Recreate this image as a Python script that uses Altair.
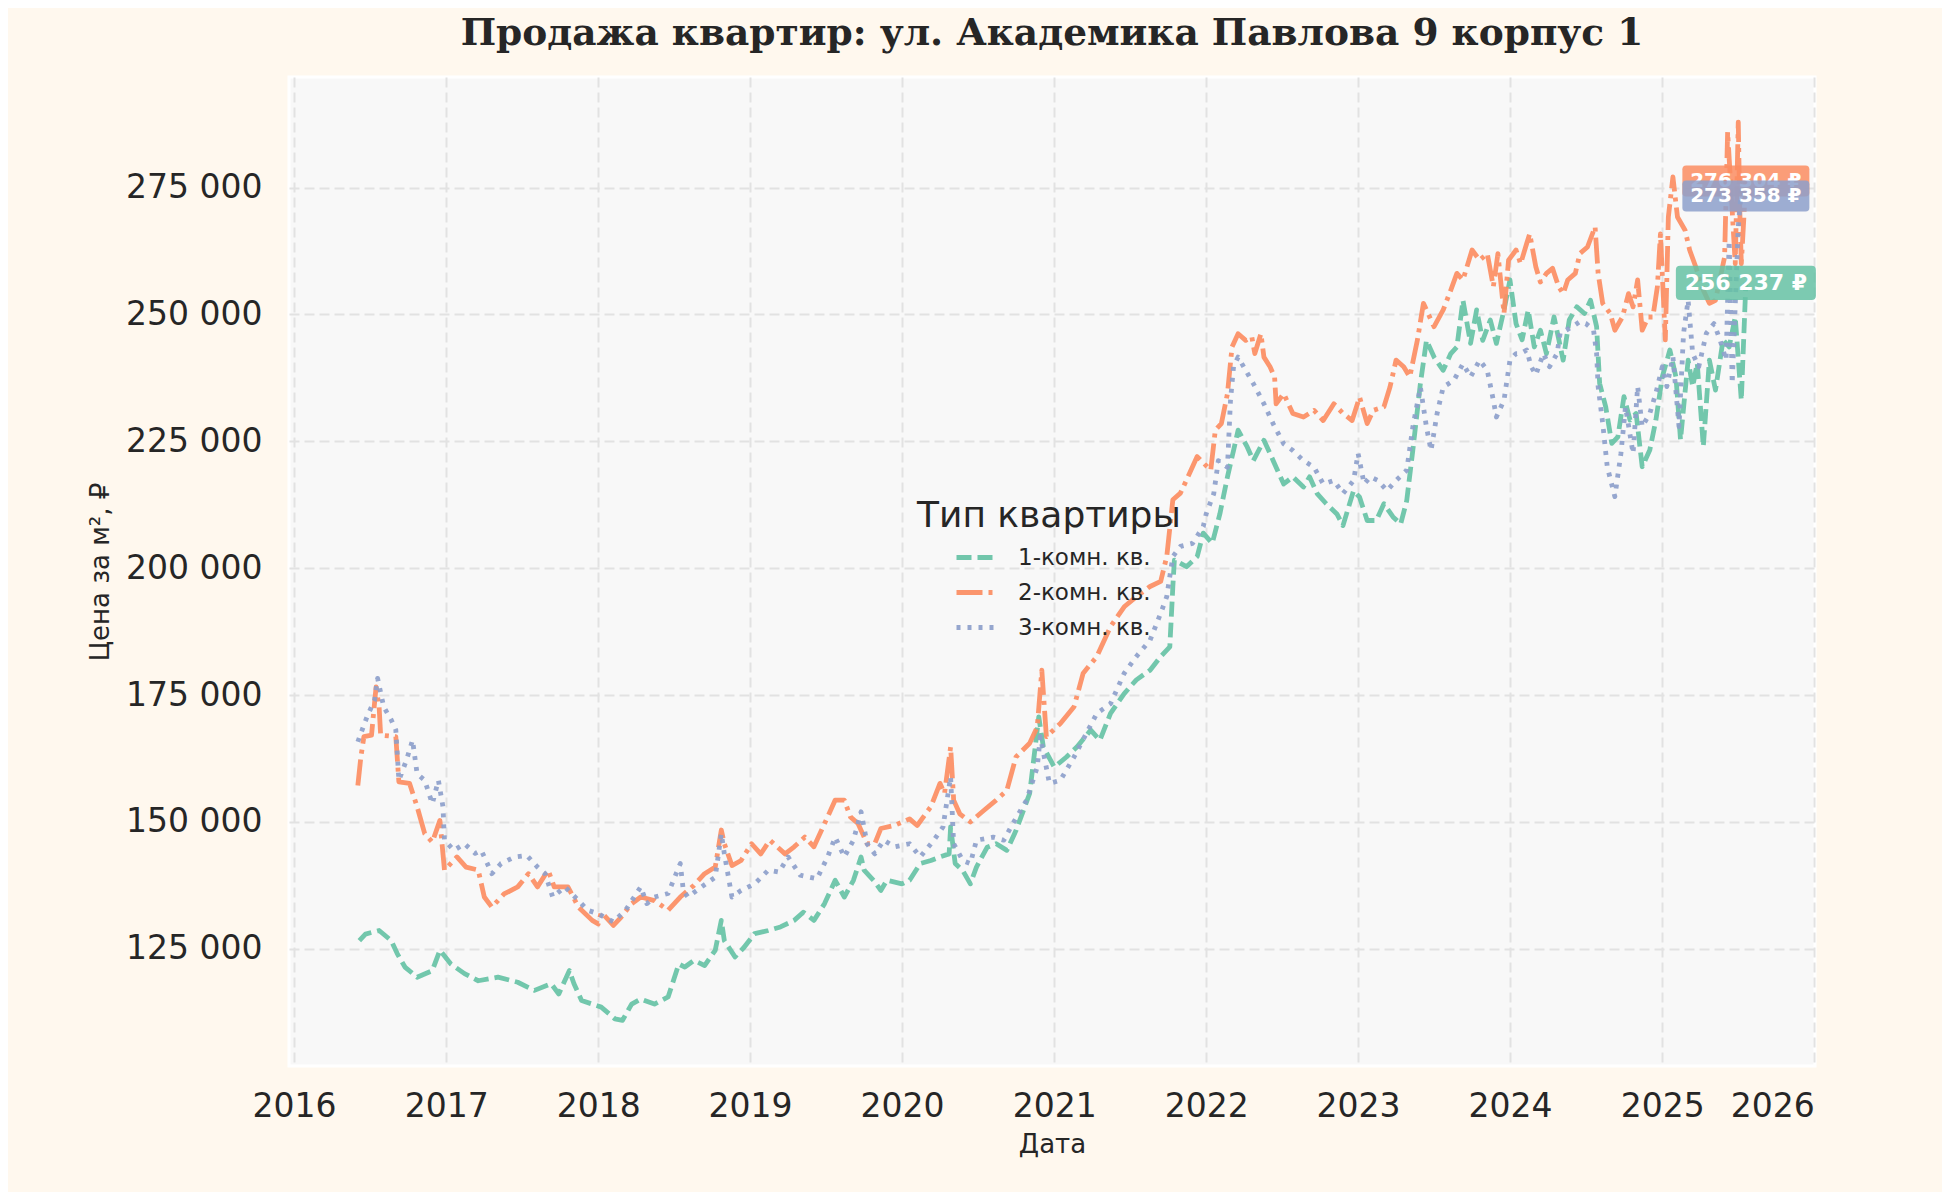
import altair as alt
import pandas as pd

# ---------------- data (decimal years, prices in thousand ₽) ----------------
series_names = ["1-комн. кв.", "2-комн. кв.", "3-комн. кв."]
series_colors = ["#66c2a5", "#fc8d62", "#8da0cb"]
last_values = [256237, 276304, 273358]

t1 = [2016.43, 2016.47, 2016.56, 2016.64, 2016.68, 2016.73, 2016.81, 2016.91, 2016.96, 2017.03,
      2017.12, 2017.21, 2017.34, 2017.47, 2017.58, 2017.69, 2017.74, 2017.81, 2017.84, 2017.89,
      2017.96, 2018.02, 2018.11, 2018.16, 2018.22, 2018.28, 2018.37, 2018.46, 2018.53, 2018.57,
      2018.63, 2018.70, 2018.77, 2018.81, 2018.83, 2018.90, 2018.96, 2019.03, 2019.12, 2019.20,
      2019.29, 2019.35, 2019.42, 2019.49, 2019.56, 2019.62, 2019.68, 2019.73, 2019.75, 2019.82,
      2019.86, 2019.90, 2020.00, 2020.05, 2020.12, 2020.19, 2020.25, 2020.31, 2020.32, 2020.35,
      2020.40, 2020.45, 2020.49, 2020.56, 2020.62, 2020.69, 2020.75, 2020.84, 2020.90, 2020.93,
      2021.00, 2021.08, 2021.15, 2021.24, 2021.30, 2021.37, 2021.46, 2021.54, 2021.63, 2021.70,
      2021.76, 2021.78, 2021.79, 2021.87, 2021.94, 2021.98, 2022.04, 2022.09, 2022.14, 2022.18,
      2022.21, 2022.27, 2022.31, 2022.38, 2022.42, 2022.46, 2022.51, 2022.57, 2022.64, 2022.68,
      2022.73, 2022.79, 2022.86, 2022.90, 2022.97, 2023.01, 2023.06, 2023.12, 2023.17, 2023.23,
      2023.28, 2023.32, 2023.36, 2023.41, 2023.45, 2023.50, 2023.56, 2023.61, 2023.65, 2023.69,
      2023.74, 2023.78, 2023.82, 2023.87, 2023.91, 2023.96, 2024.00, 2024.04, 2024.08, 2024.12,
      2024.16, 2024.20, 2024.24, 2024.29, 2024.35, 2024.39, 2024.44, 2024.49, 2024.53, 2024.57,
      2024.59, 2024.63, 2024.67, 2024.71, 2024.75, 2024.79, 2024.83, 2024.87, 2024.92, 2024.96,
      2025.00, 2025.05, 2025.09, 2025.12, 2025.17, 2025.20, 2025.23, 2025.27, 2025.31, 2025.35,
      2025.40, 2025.44, 2025.48, 2025.52, 2025.55]
v1 = [126.6, 127.9, 128.6, 126.6, 124.0, 121.4, 119.4, 120.7, 124.7, 122.0,
      120.1, 118.7, 119.4, 118.4, 116.8, 118.1, 116.1, 120.7, 118.1, 114.8,
      114.1, 113.5, 111.2, 110.9, 114.1, 115.1, 114.1, 115.5, 122.0, 121.4,
      122.7, 121.7, 124.7, 130.6, 126.6, 123.4, 125.3, 128.0, 128.6, 129.3,
      130.6, 132.2, 130.6, 133.9, 138.5, 135.2, 138.5, 143.1, 140.5, 138.2,
      136.5, 138.5, 137.8, 138.5, 141.8, 142.4, 143.1, 143.7, 149.0, 141.8,
      140.4, 137.8, 141.1, 145.0, 145.7, 144.4, 148.3, 155.6, 170.7, 164.8,
      160.8, 162.8, 164.8, 168.1, 166.1, 171.4, 175.3, 178.0, 179.9, 182.6,
      184.5, 196.4, 201.6, 200.3, 202.3, 206.9, 204.9, 210.7, 218.0, 223.2,
      227.2, 223.9, 221.2, 225.2, 222.6, 219.9, 216.6, 218.0, 216.0, 218.0,
      214.7, 212.7, 210.7, 208.4, 215.3, 214.0, 209.4, 209.4, 212.7, 210.1,
      208.7, 213.3, 223.2, 236.4, 244.9, 241.6, 239.0, 242.3, 243.6, 252.8,
      244.3, 250.9, 244.9, 248.9, 244.3, 250.9, 256.8, 248.2, 245.0, 250.9,
      243.6, 246.9, 242.3, 249.5, 241.0, 248.9, 251.5, 250.2, 252.8, 247.6,
      236.4, 231.8, 224.6, 225.9, 233.8, 229.2, 230.5, 220.0, 223.3, 229.2,
      237.7, 243.0, 237.7, 225.3, 241.0, 235.8, 240.4, 224.0, 241.0, 235.1,
      245.0, 243.6, 249.5, 233.1, 256.237]

t2 = [2016.42, 2016.44, 2016.46, 2016.51, 2016.54, 2016.56, 2016.57, 2016.67, 2016.69, 2016.76,
      2016.81, 2016.86, 2016.91, 2016.96, 2016.99, 2017.07, 2017.13, 2017.21, 2017.25, 2017.30,
      2017.38, 2017.47, 2017.54, 2017.60, 2017.67, 2017.71, 2017.80, 2017.87, 2017.96, 2018.00,
      2018.02, 2018.10, 2018.15, 2018.22, 2018.28, 2018.37, 2018.46, 2018.54, 2018.63, 2018.70,
      2018.77, 2018.81, 2018.83, 2018.88, 2018.94, 2019.01, 2019.07, 2019.13, 2019.23, 2019.29,
      2019.36, 2019.42, 2019.51, 2019.56, 2019.62, 2019.66, 2019.71, 2019.77, 2019.82, 2019.86,
      2019.95, 2020.05, 2020.10, 2020.19, 2020.25, 2020.28, 2020.32, 2020.34, 2020.38, 2020.45,
      2020.54, 2020.62, 2020.69, 2020.75, 2020.84, 2020.89, 2020.92, 2020.95, 2021.04, 2021.13,
      2021.19, 2021.28, 2021.37, 2021.46, 2021.54, 2021.63, 2021.70, 2021.74, 2021.78, 2021.83,
      2021.89, 2021.94, 2022.03, 2022.06, 2022.10, 2022.14, 2022.17, 2022.21, 2022.26, 2022.30,
      2022.32, 2022.36, 2022.38, 2022.42, 2022.45, 2022.46, 2022.51, 2022.57, 2022.64, 2022.71,
      2022.77, 2022.84, 2022.90, 2022.96, 2023.01, 2023.06, 2023.10, 2023.17, 2023.21, 2023.25,
      2023.30, 2023.34, 2023.39, 2023.43, 2023.50, 2023.56, 2023.61, 2023.65, 2023.69, 2023.75,
      2023.80, 2023.85, 2023.89, 2023.92, 2023.96, 2023.99, 2024.04, 2024.07, 2024.11, 2024.13,
      2024.17, 2024.20, 2024.24, 2024.28, 2024.32, 2024.35, 2024.38, 2024.43, 2024.46, 2024.51,
      2024.56, 2024.58, 2024.61, 2024.66, 2024.69, 2024.74, 2024.78, 2024.81, 2024.84, 2024.87,
      2024.91, 2024.94, 2024.97, 2024.99, 2025.02, 2025.04, 2025.07, 2025.10, 2025.15, 2025.18,
      2025.22, 2025.27, 2025.31, 2025.35, 2025.41, 2025.43, 2025.46, 2025.48, 2025.50, 2025.51,
      2025.52, 2025.55]
v2 = [157.2, 162.8, 166.8, 167.1, 176.6, 172.7, 167.1, 166.8, 157.9, 157.6,
      153.0, 147.7, 146.0, 150.3, 140.5, 143.1, 141.1, 140.5, 135.2, 133.2,
      135.8, 137.2, 139.8, 137.2, 140.5, 137.2, 137.2, 133.2, 130.6, 129.9,
      132.2, 129.6, 131.2, 133.9, 135.2, 134.5, 132.6, 135.2, 137.5, 139.8,
      141.1, 148.4, 145.7, 141.4, 142.4, 145.7, 143.7, 146.4, 143.7, 145.1,
      147.0, 145.1, 151.0, 154.3, 154.3, 151.0, 149.7, 145.7, 145.7, 148.7,
      149.3, 150.6, 149.3, 153.0, 157.6, 155.6, 164.8, 154.3, 151.6, 150.0,
      152.3, 154.3, 156.2, 162.8, 165.5, 168.7, 179.9, 166.8, 169.4, 172.7,
      179.3, 182.6, 188.5, 192.4, 194.4, 196.4, 197.4, 202.3, 213.5, 214.8,
      218.7, 222.0, 219.3, 227.2, 228.5, 234.4, 243.6, 246.2, 244.9, 245.6,
      242.3, 246.2, 241.6, 239.7, 237.7, 232.4, 234.4, 230.5, 229.8, 231.1,
      229.1, 232.4, 230.5, 229.1, 233.7, 228.5, 231.1, 231.8, 235.7, 241.0,
      239.7, 237.7, 244.9, 252.2, 247.6, 250.9, 254.8, 258.1, 256.8, 262.7,
      260.7, 262.0, 255.5, 262.0, 250.2, 260.7, 262.7, 260.0, 264.0, 265.9,
      259.4, 256.4, 258.1, 259.1, 255.5, 254.1, 256.8, 258.1, 262.0, 263.3,
      267.3, 258.1, 252.2, 250.2, 246.9, 249.5, 254.1, 251.5, 256.8, 246.9,
      249.5, 249.5, 255.5, 265.9, 245.0, 269.2, 277.1, 269.2, 266.6, 262.7,
      259.4, 254.8, 252.2, 252.8, 261.3, 286.0, 270.5, 260.0, 287.9, 270.5,
      260.0, 276.304]

t3 = [2016.42, 2016.48, 2016.53, 2016.55, 2016.59, 2016.64, 2016.67, 2016.69, 2016.74, 2016.78,
      2016.81, 2016.86, 2016.91, 2016.95, 2016.98, 2016.99, 2017.05, 2017.12, 2017.19, 2017.23,
      2017.30, 2017.36, 2017.45, 2017.53, 2017.60, 2017.65, 2017.70, 2017.78, 2017.87, 2017.93,
      2018.00, 2018.10, 2018.18, 2018.28, 2018.32, 2018.37, 2018.46, 2018.54, 2018.56, 2018.59,
      2018.68, 2018.77, 2018.81, 2018.83, 2018.88, 2018.94, 2019.03, 2019.12, 2019.19, 2019.25,
      2019.33, 2019.44, 2019.51, 2019.56, 2019.62, 2019.68, 2019.73, 2019.77, 2019.82, 2019.88,
      2019.95, 2020.05, 2020.12, 2020.21, 2020.27, 2020.32, 2020.34, 2020.40, 2020.45, 2020.49,
      2020.60, 2020.67, 2020.73, 2020.82, 2020.89, 2020.91, 2020.97, 2021.04, 2021.13, 2021.21,
      2021.28, 2021.37, 2021.46, 2021.54, 2021.63, 2021.70, 2021.74, 2021.78, 2021.83, 2021.91,
      2021.98, 2022.00, 2022.05, 2022.08, 2022.14, 2022.16, 2022.18, 2022.21, 2022.26, 2022.31,
      2022.38, 2022.44, 2022.51, 2022.57, 2022.64, 2022.71, 2022.77, 2022.84, 2022.90, 2022.97,
      2023.00, 2023.04, 2023.08, 2023.13, 2023.19, 2023.25, 2023.32, 2023.36, 2023.41, 2023.45,
      2023.48, 2023.52, 2023.56, 2023.63, 2023.69, 2023.74, 2023.80, 2023.85, 2023.89, 2023.91,
      2023.96, 2024.00, 2024.04, 2024.07, 2024.11, 2024.14, 2024.17, 2024.22, 2024.26, 2024.31,
      2024.33, 2024.37, 2024.41, 2024.46, 2024.50, 2024.55, 2024.57, 2024.58, 2024.61, 2024.64,
      2024.69, 2024.73, 2024.76, 2024.81, 2024.84, 2024.87, 2024.92, 2024.96, 2025.00, 2025.03,
      2025.07, 2025.11, 2025.14, 2025.17, 2025.20, 2025.24, 2025.29, 2025.34, 2025.38, 2025.42,
      2025.44, 2025.46, 2025.50, 2025.52, 2025.55]
v3 = [165.8, 170.7, 174.0, 178.3, 172.7, 170.1, 168.1, 158.2, 162.2, 166.1,
      159.5, 158.2, 153.6, 158.2, 153.0, 146.4, 144.4, 145.7, 143.8, 144.4,
      139.8, 141.8, 143.1, 143.4, 141.1, 139.8, 135.2, 137.2, 134.5, 132.6,
      131.9, 130.3, 132.6, 137.2, 133.9, 135.2, 135.9, 141.8, 136.5, 135.2,
      137.2, 139.1, 147.7, 143.7, 135.2, 136.5, 137.8, 140.5, 140.1, 143.1,
      139.5, 138.8, 143.1, 147.0, 143.1, 146.4, 152.0, 145.7, 143.7, 146.4,
      145.1, 145.7, 143.1, 146.4, 149.0, 158.9, 145.7, 142.4, 141.8, 146.4,
      147.0, 146.4, 149.7, 154.3, 160.8, 166.8, 157.6, 158.2, 162.8, 167.4,
      171.4, 173.3, 179.3, 182.6, 185.8, 191.1, 194.4, 202.3, 204.3, 204.9,
      208.2, 210.7, 214.7, 221.2, 219.9, 233.1, 239.7, 241.6, 239.0, 236.4,
      232.4, 228.5, 224.5, 223.2, 221.2, 219.9, 216.6, 217.3, 214.7, 217.3,
      222.6, 216.6, 218.0, 217.3, 215.3, 217.3, 219.3, 227.8, 235.7, 227.8,
      223.2, 230.5, 235.7, 237.0, 240.3, 237.7, 241.0, 239.0, 233.1, 229.8,
      233.1, 241.0, 242.3, 242.3, 243.0, 239.7, 238.1, 242.3, 239.7, 242.3,
      246.3, 246.9, 247.6, 248.6, 248.2, 246.9, 242.3, 235.8, 228.6, 220.0,
      214.1, 222.6, 231.8, 222.6, 235.8, 227.9, 230.5, 234.5, 239.7, 235.8,
      241.7, 227.9, 246.3, 252.8, 242.3, 239.7, 246.3, 248.2, 245.0, 241.0,
      264.6, 236.4, 267.3, 274.5, 273.358]

year_ticks = list(range(2016, 2027))
price_ticks = [125000, 150000, 175000, 200000, 225000, 250000, 275000]


def to_date(y):
    yr = int(y)
    return pd.Timestamp(year=yr, month=1, day=1) + pd.Timedelta(days=(y - yr) * 365.25)


rows = []
for name, ts, vs in zip(series_names, [t1, t2, t3], [v1, v2, v3]):
    for i, (t, v) in enumerate(zip(ts, vs)):
        rows.append({"date": to_date(t), "price": round(v * 1000), "series": name, "idx": i})
df = pd.DataFrame(rows)

last_date = to_date(t1[-1])

x_scale = alt.Scale(domain=[alt.DateTime(year=2015, month=12, date=20),
                            alt.DateTime(year=2026, month=1, date=3)], nice=False)
y_scale = alt.Scale(domain=[101900, 296800], nice=False, zero=False)

dash_range = [[15, 6], [26, 6, 4, 6], [4, 7]]

lines = alt.Chart(df).mark_line(strokeWidth=4.8, opacity=0.92, strokeCap="butt",
                                strokeJoin="round").encode(
    x=alt.X("date:T", scale=x_scale, title="Дата",
            axis=alt.Axis(values=[alt.DateTime(year=y, month=1, date=1) for y in year_ticks],
                          format="%Y", labelPadding=24, titlePadding=8)),
    y=alt.Y("price:Q", scale=y_scale, title="Цена за м², ₽",
            axis=alt.Axis(values=price_ticks,
                          labelExpr="replace(format(datum.value, ',d'), ',', ' ')",
                          labelPadding=27, titlePadding=12)),
    color=alt.Color("series:N", scale=alt.Scale(domain=series_names, range=series_colors),
                    legend=alt.Legend(orient="none", legendX=628, legendY=422,
                                      title="Тип квартиры", titleFontSize=36,
                                      titleLimit=600,
                                      titleFontWeight="normal", titleColor="#262626",
                                      labelFontSize=23, labelColor="#262626",
                                      labelLimit=400,
                                      symbolType="stroke", symbolSize=1600,
                                      symbolStrokeWidth=5, symbolOffset=37,
                                      labelOffset=19, rowPadding=-5, titlePadding=0,
                                      padding=0)),
    strokeDash=alt.StrokeDash("series:N",
                              scale=alt.Scale(domain=series_names, range=dash_range),
                              legend=alt.Legend(orient="none", legendX=628, legendY=422,
                                                title="Тип квартиры")),
    order="idx:Q",
)

label_df = pd.DataFrame({
    "date": [last_date] * 3,
    "price": last_values,
    "series": series_names,
    "text": [f"{v:,}".replace(",", " ") + " ₽" for v in last_values],
})

box_path = ("M -0.94 -0.245 L 0.94 -0.245 Q 1 -0.245 1 -0.185 L 1 0.185 Q 1 0.245 0.94 0.245 "
            "L -0.94 0.245 Q -1 0.245 -1 0.185 L -1 -0.185 Q -1 -0.245 -0.94 -0.245 Z")

label_layers = []
for name, col, box_w, fsize in [(series_names[1], series_colors[1], 127, 20),
                                 (series_names[2], series_colors[2], 127, 20),
                                 (series_names[0], series_colors[0], 140, 22)]:
    base = alt.Chart(label_df).transform_filter(alt.datum.series == name)
    box = base.mark_point(shape=box_path, filled=True, fill=col, fillOpacity=0.85,
                          strokeWidth=0, size=box_w * box_w).encode(
        x=alt.X("date:T"), y=alt.Y("price:Q"))
    txt = base.mark_text(align="center", baseline="middle", fontWeight="bold",
                         fontSize=fsize, font="DejaVu Sans", color="white").encode(
        x=alt.X("date:T"), y=alt.Y("price:Q"), text="text:N")
    label_layers += [box, txt]

chart = alt.layer(lines, *label_layers).properties(
    width=1526, height=989,
    autosize=alt.AutoSizeParams(type="none"),
    padding={"left": 281, "top": 69, "right": 127, "bottom": 126},
    title=alt.Title("Продажа квартир: ул. Академика Павлова 9 корпус 1",
                    font="DejaVu Serif", fontSize=37.5, fontWeight="bold",
                    color="#262626", anchor="middle", frame="group", offset=25),
).configure(
    background="#FFF8EE",
    font="DejaVu Sans",
).configure_view(
    fill="#F8F8F8", stroke="white", strokeWidth=3,
).configure_axis(
    labelFont="DejaVu Sans", labelFontSize=33, labelColor="#262626",
    titleFont="DejaVu Sans", titleFontSize=26, titleFontWeight="normal",
    titleColor="#262626", domain=False, ticks=False, grid=True,
    gridColor="#E2E2E2", gridDash=[10, 5], gridWidth=2,
).configure_legend(
    labelFont="DejaVu Sans", titleFont="DejaVu Sans",
)

chart.save("out.html", embed_options={"renderer": "svg", "actions": False})
